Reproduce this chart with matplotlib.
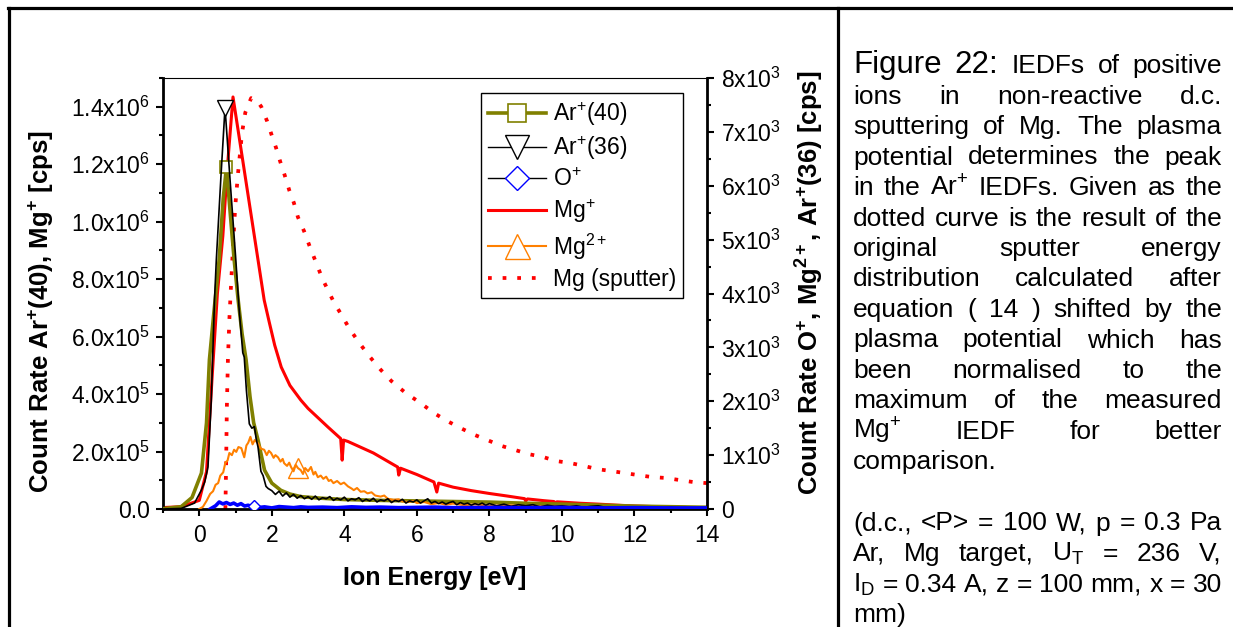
import numpy as np
import matplotlib
matplotlib.use("Agg")
import matplotlib.pyplot as plt
from matplotlib.ticker import MultipleLocator, FuncFormatter
from matplotlib.lines import Line2D

plt.rcParams["font.family"] = ["Liberation Sans", "DejaVu Sans"]
plt.rcParams["mathtext.fontset"] = "custom"
plt.rcParams["mathtext.rm"] = "Liberation Sans"
plt.rcParams["mathtext.it"] = "Liberation Sans:italic"
plt.rcParams["mathtext.bf"] = "Liberation Sans:bold"
plt.rcParams["mathtext.default"] = "regular"

# ---- data (ion energy in eV, count rates in cps) ----
# Ar+(40), left axis
ar40_x = [-1.0, -0.5, -0.2, 0.06, 0.2, 0.28, 0.4, 0.55, 0.66, 0.75, 0.86, 0.96, 1.07, 1.18,
          1.29, 1.4, 1.5, 1.62, 1.8, 2.0, 2.25, 2.5, 2.8, 3.3, 4.0, 5.0, 6.0, 7.0, 8.0, 9.0,
          10.0, 11.0, 12.0, 13.0, 14.0]
ar40_y = [1e3, 8e3, 4e4, 1.25e5, 3.0e5, 5.2e5, 6.8e5, 8.7e5, 1.08e6, 1.19e6, 1.02e6, 8.7e5,
          7.3e5, 6.1e5, 5.2e5, 3.9e5, 3.0e5, 2.4e5, 1.35e5, 9.0e4, 6.5e4, 5.2e4, 4.3e4, 3.8e4,
          3.3e4, 3.0e4, 2.8e4, 2.6e4, 2.4e4, 2.0e4, 1.7e4, 1.35e4, 1.0e4, 8e3, 6e3]

# Mg+, left axis
mg1_x = [-1.0, -0.5, 0.0, 0.2, 0.35, 0.5, 0.65, 0.77, 0.93, 1.3, 1.62, 1.79, 1.93, 2.08, 2.26,
         2.5, 2.8, 3.0, 3.55, 3.9, 3.94, 3.98, 4.1, 4.8, 5.47, 5.5, 5.55, 6.0, 6.47, 6.55, 6.6,
         7.0, 7.5, 8.0, 8.5, 8.97, 9.0, 9.05, 9.5, 9.78, 9.82, 9.86, 10.0, 10.5, 11.0, 11.5,
         12.0, 12.5, 13.0, 13.5, 14.0]
mg1_y = [5e3, 8e3, 3e4, 1.3e5, 4.5e5, 7.5e5, 9.5e5, 1.18e6, 1.434e6, 1.13e6, 8.67e5, 7.27e5,
         6.5e5, 5.7e5, 4.94e5, 4.3e5, 3.79e5, 3.5e5, 2.85e5, 2.45e5, 1.7e5, 2.4e5, 2.35e5,
         1.95e5, 1.46e5, 1.18e5, 1.42e5, 1.2e5, 9.4e4, 5.9e4, 9.0e4, 7.6e4, 6.4e4, 5.4e4,
         4.5e4, 3.6e4, 2.8e4, 3.5e4, 2.9e4, 2.6e4, 2.1e4, 2.5e4, 2.4e4, 2.0e4, 1.7e4, 1.35e4,
         1.05e4, 8.5e3, 7e3, 5e3, 3.5e3]

# Mg (sputter) calculated curve, left axis
sput_x = [0.72, 0.74, 0.76, 0.79, 0.83, 0.88, 0.93, 0.99, 1.07, 1.18, 1.27, 1.43, 1.6, 1.71,
          1.87, 2.0, 2.12, 2.23, 2.36, 2.48, 2.61, 2.72, 2.89, 3.03, 3.16, 3.4, 3.71, 3.9, 4.13,
          4.4, 4.7, 5.0, 5.3, 5.69, 6.1, 6.47, 6.84, 7.2, 7.59, 7.94, 8.35, 8.72, 9.08, 9.48,
          9.84, 10.23, 10.6, 10.97, 11.36, 11.74, 12.1, 12.49, 12.87, 13.23, 13.61, 14.0]
sput_y = [0, 1.5e5, 3.5e5, 5.2e5, 6.6e5, 7.9e5, 9.1e5, 1.05e6, 1.17e6, 1.31e6, 1.38e6, 1.43e6,
          1.42e6, 1.40e6, 1.35e6, 1.30e6, 1.256e6, 1.21e6, 1.16e6, 1.11e6, 1.065e6, 1.016e6,
          9.67e5, 9.19e5, 8.77e5, 8.0e5, 7.2e5, 6.8e5, 6.3e5, 5.8e5, 5.3e5, 4.85e5, 4.45e5,
          4.04e5, 3.69e5, 3.34e5, 3.06e5, 2.82e5, 2.58e5, 2.4e5, 2.19e5, 2.05e5, 1.91e5, 1.81e5,
          1.67e5, 1.6e5, 1.5e5, 1.39e5, 1.32e5, 1.25e5, 1.18e5, 1.11e5, 1.08e5, 1.01e5, 9.4e4,
          9.0e4]

# Ar+(36), right axis
ar36_x = [-1.0, -0.5, -0.13, 0.06, 0.15, 0.24, 0.33, 0.42, 0.47, 0.6, 0.71, 0.85, 1.0, 1.1,
          1.2, 1.24, 1.3, 1.38, 1.45, 1.52, 1.57, 1.62, 1.7, 1.76, 1.84, 1.9,
          2.0, 2.1, 2.2, 2.3, 2.4, 2.5, 2.6, 2.7, 2.8, 2.9, 3.0, 3.1, 3.2, 3.3, 3.4, 3.5, 3.6,
          3.7, 3.8, 3.9, 4.0, 4.1, 4.2, 4.3, 4.4, 4.5, 4.6, 4.7, 4.8, 4.9, 5.0, 5.1, 5.2, 5.3,
          5.4, 5.5, 5.6, 5.7, 5.8, 5.9, 6.0, 6.1, 6.2, 6.3, 6.4, 6.5, 6.6, 6.7, 6.8, 6.9, 7.0,
          7.1, 7.2, 7.3, 7.4, 7.5, 7.6, 7.7, 7.8, 7.9, 8.0, 8.2, 8.4, 8.6, 8.8, 9.0, 9.2, 9.4,
          9.6, 9.8, 10.0, 10.2, 10.4, 10.6, 10.8, 11.0, 11.2, 11.4, 11.6, 11.8, 12.0, 12.2, 12.4,
          12.6, 12.8, 13.0, 13.2, 13.4, 13.6, 13.8, 14.0]
ar36_y = [0, 10, 111, 353, 500, 780, 2000, 3879, 4622, 6200, 7450, 6100, 4700, 3700,
          2900, 2820, 2200, 1580, 1500, 1530, 1300, 1150, 700, 620, 420, 380,
          340, 270, 330, 240, 300, 220, 270, 200, 250, 190, 230, 180, 240, 170, 210, 190, 230,
          160, 200, 170, 220, 150, 190, 170, 210, 140, 180, 150, 200, 130, 170, 150, 190, 120,
          160, 140, 180, 110, 150, 130, 170, 110, 150, 190, 110, 140, 100, 130, 90, 120, 140,
          80, 120, 90, 110, 70, 100, 80, 110, 70, 100, 60, 90, 50, 80, 60, 80, 40,
          70, 50, 60, 40, 60, 30, 50, 60, 30, 40, 20, 40, 30, 40, 20,
          30, 20, 35, 20, 25, 15, 25, 20]

# O+, right axis
o_x = [0.3, 0.45, 0.55, 0.65, 0.75, 0.85, 0.95, 1.05, 1.15, 1.25, 1.35, 1.45, 1.52, 1.6, 1.8,
       2.0, 2.2, 2.4, 2.6, 2.8, 3.0, 3.4, 3.8, 4.2, 4.6, 5.0, 5.5, 6.0, 6.5, 7.0, 8.0, 9.0,
       10.0, 11.0, 12.0, 13.0, 14.0]
o_y = [0, 60, 130, 95, 120, 85, 110, 70, 100, 55, 70, 40, 60, 25, 40, 20, 45, 35, 25, 40, 30,
       35, 25, 40, 30, 35, 25, 30, 35, 25, 30, 25, 30, 20, 25, 20, 20]

# Mg2+, right axis
mg2_x = [0.0, 0.1, 0.2, 0.3, 0.38, 0.45, 0.52, 0.58, 0.66, 0.72, 0.78, 0.83, 0.9, 0.96, 1.02,
         1.08, 1.16, 1.24, 1.3, 1.35, 1.41, 1.47, 1.53, 1.62, 1.7, 1.79, 1.86, 1.92, 1.98,
         2.05, 2.1, 2.17, 2.24, 2.3, 2.34, 2.42, 2.48, 2.53, 2.6, 2.66, 2.72, 2.8, 2.86, 2.92,
         3.0, 3.08, 3.15, 3.2, 3.27, 3.35, 3.42, 3.5, 3.57, 3.63, 3.7, 3.8, 3.9, 3.99, 4.1,
         4.2, 4.26, 4.35, 4.45, 4.55, 4.64, 4.75, 4.85, 5.0, 5.1, 5.2, 5.36, 5.5, 5.6, 5.75,
         5.9, 6.0, 6.2, 6.4, 6.6, 6.8, 7.0, 7.3, 7.6, 8.0, 8.5, 9.0, 9.5, 10.0, 11.0, 12.0,
         13.0, 14.0]
mg2_y = [0, 40, 150, 280, 330, 450, 480, 620, 680, 860, 900, 1040, 1000, 1100, 1060,
         1150, 1130, 960, 1180, 1230, 1340, 1200, 1280, 1220, 1120, 1100, 1000, 1080, 1040,
         950, 1000, 960, 880, 930, 850, 800, 860, 780, 700, 820, 760, 720, 650, 760,
         700, 780, 640, 690, 590, 620, 560, 600, 520, 540, 480, 520, 460, 490, 420,
         380, 350, 390, 320, 330, 290, 310, 250, 230, 250, 190, 170, 180, 140, 130,
         150, 110, 130, 90, 110, 80, 100, 70, 85, 60, 70, 50, 55, 40, 35, 25,
         20, 15]

BODY = 19
caption = [
    [("Figure", 22.5), ("22:", 22.5), ("IEDFs", BODY), ("of", BODY), ("positive", BODY)],
    "ions in non-reactive d.c.",
    "sputtering of Mg. The plasma",
    "potential determines the peak",
    "in the Ar$^{+}$ IEDFs. Given as the",
    "dotted curve is the result of the",
    "original sputter energy",
    "distribution calculated after",
    "equation ( 14 ) shifted by the",
    "plasma potential which has",
    "been normalised to the",
    "maximum of the measured",
    "Mg$^{+}$ IEDF for better",
    "comparison.",
    "",
    "(d.c., <P> = 100 W, p = 0.3 Pa",
    "Ar, Mg target, U$_{T}$ = 236 V,",
    "I$_{D}$ = 0.34 A, z = 100 mm, x = 30",
    "mm)",
]
left_aligned = ["comparison.", "mm)"]

OLIVE = "#808000"
ORANGE = "#ff8000"
W, H = 1233, 627
DOTS = (0, (1, 2.9))

fig = plt.figure(figsize=(W / 100, H / 100), dpi=100)
ax = fig.add_axes([163 / W, 1 - 509 / H, 544 / W, 431 / H])
ax2 = ax.twinx()

ax.plot(sput_x, sput_y, color="red", lw=2.7, linestyle=DOTS, zorder=1)
ax.plot(mg1_x, mg1_y, color="red", lw=2.2, zorder=2)
ax.plot(ar40_x, ar40_y, color=OLIVE, lw=2.6, zorder=3,
        marker="s", ms=8, mfc="white", mec=OLIVE, mew=1.2, markevery=[9])

ax2.plot(mg2_x, mg2_y, color=ORANGE, lw=1.5, zorder=1,
         marker="^", ms=14, mfc="none", mec=ORANGE, mew=1.0, markevery=[40])
ax2.plot(ar36_x, ar36_y, color="black", lw=1.2, zorder=2,
         marker="v", ms=11.5, mfc="white", mec="black", mew=1.0, markevery=[10])
ax2.plot(o_x, o_y, color="blue", lw=2.6, zorder=3,
         marker="D", ms=6.6, mfc="white", mec="blue", mew=1.0, markevery=[12])

ax.set_xlim(-1, 14)
ax.set_ylim(0, 1.5e6)
ax2.set_ylim(0, 8000)
ax.xaxis.set_major_locator(MultipleLocator(2))
ax.xaxis.set_minor_locator(MultipleLocator(1))
ax.yaxis.set_major_locator(MultipleLocator(2e5))
ax.yaxis.set_minor_locator(MultipleLocator(1e5))
ax2.yaxis.set_major_locator(MultipleLocator(1000))
ax2.yaxis.set_minor_locator(MultipleLocator(500))


def left_fmt(v, pos):
    if v < -1:
        return ""
    if abs(v) < 1:
        return "0.0"
    e = int(np.floor(np.log10(v) + 1e-9))
    return "%.1fx10$^{%d}$" % (v / 10 ** e, e)


def right_fmt(v, pos):
    if v < -1:
        return ""
    if abs(v) < 1:
        return "0"
    return "%dx10$^{3}$" % round(v / 1000)


ax.yaxis.set_major_formatter(FuncFormatter(left_fmt))
ax2.yaxis.set_major_formatter(FuncFormatter(right_fmt))

ax.tick_params(which="both", direction="out", width=1.5, labelsize=16.5, top=False, right=False)
ax.tick_params(which="major", length=5, pad=4)
ax.tick_params(which="minor", length=3)
ax.tick_params(axis="x", which="major", pad=6)
ax2.tick_params(which="both", direction="out", width=1.5, labelsize=16.5)
ax2.tick_params(which="major", length=5, pad=5)
ax2.tick_params(which="minor", length=3)

for s in ["left", "bottom"]:
    ax.spines[s].set_linewidth(2.0)
ax.spines["top"].set_linewidth(0.8)
ax.spines["right"].set_visible(False)
for s in ["left", "bottom", "top"]:
    ax2.spines[s].set_visible(False)
ax2.spines["right"].set_linewidth(2.0)

handles = [
    Line2D([], [], color=OLIVE, lw=2.6, marker="s", ms=13.5, mfc="white", mec=OLIVE, mew=1.2),
    Line2D([], [], color="black", lw=1.0, marker="v", ms=17, mfc="white", mec="black", mew=1.0),
    Line2D([], [], color="black", lw=1.0, marker="D", ms=12.5, mfc="white", mec="blue", mew=1.0),
    Line2D([], [], color="red", lw=2.2),
    Line2D([], [], color=ORANGE, lw=1.5, marker="^", ms=18, mfc="white", mec=ORANGE, mew=1.0),
    Line2D([], [], color="red", lw=2.7, linestyle=DOTS),
]
labels = ["Ar$^{+}$(40)", "Ar$^{+}$(36)", "O$^{+}$", "Mg$^{+}$", "Mg$^{2+}$", "Mg (sputter)"]
leg = ax2.legend(handles, labels, loc="upper right", bbox_to_anchor=(683 / W, 1 - 93 / H),
                 bbox_transform=fig.transFigure, borderaxespad=0, fontsize=16.5,
                 handlelength=2.55, handletextpad=0.3, labelspacing=0.27, borderpad=0.3,
                 fancybox=False, framealpha=1, edgecolor="black")
leg.get_frame().set_linewidth(1.0)

# axis titles
fig.text(434.5 / W, 1 - 585 / H, "Ion Energy [eV]", fontsize=18, fontweight="bold",
         ha="center", va="baseline")
fig.text(41 / W, 1 - 312 / H, r"Count Rate Ar$^{\mathbf{+}}$(40), Mg$^{\mathbf{+}}$ [cps]",
         fontsize=18.5, fontweight="bold", rotation=90, ha="center", va="center")
fig.text(810 / W, 1 - 283 / H,
         r"Count Rate O$^{\mathbf{+}}$, Mg$^{\mathbf{2+}}$, Ar$^{\mathbf{+}}$(36) [cps]",
         fontsize=18.5, fontweight="bold", rotation=90, ha="center", va="center")

# table-like frame around figure and caption
for xs, ys in [([8, W], [8, 8]), ([9, 9], [8, H]), ([838, 838], [8, H])]:
    fig.add_artist(Line2D([x / W for x in xs], [1 - y / H for y in ys],
                          transform=fig.transFigure, color="black", lw=2.3))

# justified caption
renderer = fig.canvas.get_renderer()
x_left, x_right = 853, 1222
for i, line in enumerate(caption):
    if not line:
        continue
    if isinstance(line, str):
        words = [(w, BODY) for w in line.split(" ")]
        flush_left = line in left_aligned
    else:
        words = line
        flush_left = False
    y = 1 - (73 + 30.5 * i) / H
    texts = [fig.text(0, y, w, fontsize=s, ha="left", va="baseline") for w, s in words]
    widths = [t.get_window_extent(renderer).width for t in texts]
    space = 0.25 * BODY * 100 / 72
    if flush_left or len(texts) == 1:
        gap = space
    else:
        gap = max(space, (x_right - x_left - sum(widths)) / (len(texts) - 1))
    xp = x_left
    for t, wd in zip(texts, widths):
        t.set_x(xp / W)
        xp += wd + gap

fig.savefig("out.png", dpi=100)
